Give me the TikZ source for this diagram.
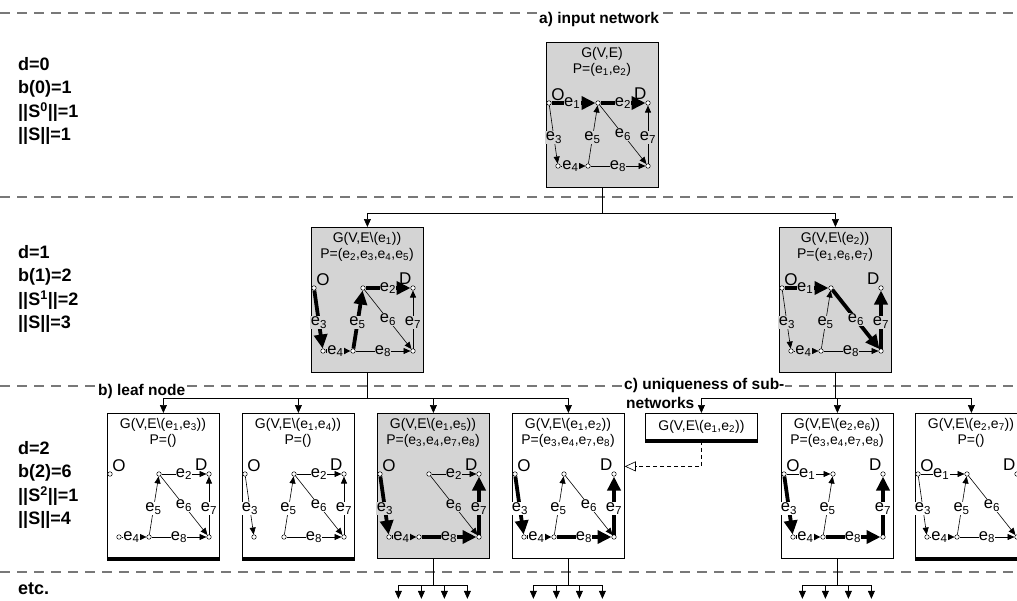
\documentclass[tikz,border=0pt]{standalone}
\usepackage{fontspec}
\setmainfont{Liberation Sans}
\usetikzlibrary{arrows.meta}

\definecolor{boxgray}{RGB}{212,212,212}
\definecolor{sepgray}{RGB}{120,120,120}
\colorlet{netbg}{white}

\newcommand{\esub}[1]{e\textsubscript{#1}}
\newcommand{\setm}{\textbackslash}

\tikzset{
  netrect/.style={draw, line width=0.8pt, anchor=north west, inner sep=0pt,
    minimum width=112pt, minimum height=145pt},
  boxtitle/.style={inner sep=0pt, font=\fontsize{14}{14}\selectfont},
  vtx/.style={circle, draw, fill=white, line width=0.5pt, inner sep=0pt, minimum size=4.5pt},
  vlbl/.style={inner sep=0.5pt, font=\fontsize{17}{17}\selectfont},
  elbl/.style={fill=netbg, inner sep=0.4pt, font=\fontsize{16.5}{16.5}\selectfont},
  offpath/.style={line width=0.6pt, -{Triangle[length=7pt,width=6pt]}},
  onpath/.style={line width=3.8pt, -{Triangle[length=14pt,width=13pt]}},
  shorttip/.style={-{Triangle[length=7pt,width=6.5pt]}},
  leafbar/.style={line width=4pt},
  treearrow/.style={line width=0.7pt, -{Triangle[length=8pt,width=7pt]}},
  uniq/.style={line width=0.6pt, dash pattern=on 4pt off 3pt,
    -{Triangle[open,length=11pt,width=10pt]}},
  levelline/.style={sepgray, line width=1.5pt, dash pattern=on 10pt off 7pt},
  hdr/.style={fill=white, inner sep=1pt, anchor=west,
    font=\bfseries\fontsize{15.5}{16}\selectfont},
  lvl/.style={anchor=west, align=left, inner sep=0pt,
    font=\bfseries\fontsize{18}{23.5}\selectfont}
}

% one edge of the small network: prefix, edge number, style
\newcommand{\netedge}[3]{%
  \ifcase#2\relax
  \or \draw[#3] (#1O) -- node[elbl,pos=.47]{\esub1} (#1m);
  \or \draw[#3] (#1m) -- node[elbl,pos=.5]{\esub2} (#1D);
  \or \draw[#3] (#1O) -- node[elbl,pos=.55]{\esub3} (#1l);
  \or \draw[#3,shorttip] (#1l) -- node[elbl,pos=.4]{\esub4} (#1c);
  \or \draw[#3] (#1c) -- node[elbl,pos=.45]{\esub5} (#1m);
  \or \draw[#3] (#1m) -- node[elbl,pos=.5]{\esub6} (#1r);
  \or \draw[#3] (#1r) -- node[elbl,pos=.45]{\esub7} (#1D);
  \or \draw[#3] (#1c) -- node[elbl,pos=.5]{\esub8} (#1r);
  \fi}

% box with sub-network: name, x, y, fill, title, path, thin edges, path edges
\newcommand{\netbox}[8]{%
  \begin{scope}[shift={(#2,#3)}]
    \colorlet{netbg}{#4}
    \node[netrect, fill=#4] (#1) at (0,0) {};
    \node[boxtitle] (#1-g) at (56,12) {#5};
    \node[boxtitle] (#1-p) at (56,28) {#6};
    \node[vtx, label={[vlbl]45:O}] (#1O) at (3,61) {};
    \node[vtx] (#1m) at (52,61) {};
    \node[vtx, label={[vlbl]110:D}] (#1D) at (102,61) {};
    \node[vtx] (#1l) at (12,124) {};
    \node[vtx] (#1c) at (42,124) {};
    \node[vtx] (#1r) at (102,124) {};
    \foreach \k in {#7} {\netedge{#1}{\k}{offpath}}
    \foreach \k in {#8} {\netedge{#1}{\k}{onpath}}
  \end{scope}}

\begin{document}
\begin{tikzpicture}[x=1pt, y=-1pt]
  \useasboundingbox (0,0) rectangle (1017,600);
  \clip (0,0) rectangle (1017,600);

  % levels
  \draw[levelline] (0,13) -- (1017,13);
  \draw[levelline] (0,197) -- (1017,197);
  \draw[levelline] (0,386) -- (1017,386);
  \draw[levelline] (0,572) -- (1017,572);
  \node[hdr] (ha) at (538,19) {a) input network};
  \node[hdr] (hb) at (97,391) {b) leaf node};
  \node[hdr] (hc) at (623,385) {c) uniqueness of sub-};
  \node[hdr, fill=none] (hn) at (625,403) {networks};

  \node[lvl] (d0) at (18,101) {d=0\\b(0)=1\\||S\textsuperscript{0}||=1\\||S||=1};
  \node[lvl] (d1) at (18,289) {d=1\\b(1)=2\\||S\textsuperscript{1}||=2\\||S||=3};
  \node[lvl] (d2) at (18,485) {d=2\\b(2)=6\\||S\textsuperscript{2}||=1\\||S||=4};
  \node[lvl] (etc) at (18,589) {etc.};

  % search tree
  \netbox{t}{546}{42}{boxgray}{G(V,E)}{P=(\esub1,\esub2)}{3,4,5,6,7,8}{1,2}
  \netbox{a}{311}{227}{boxgray}{G(V,E\setm(\esub1))}{P=(\esub2,\esub3,\esub4,\esub5)}{6,7,8}{2,3,4,5}
  \netbox{b}{779}{227}{boxgray}{G(V,E\setm(\esub2))}{P=(\esub1,\esub6,\esub7)}{3,4,5,8}{1,6,7}
  \netbox{c1}{107}{413}{white}{G(V,E\setm(\esub1,\esub3))}{P=()}{2,4,5,6,7,8}{0}
  \netbox{c2}{242}{413}{white}{G(V,E\setm(\esub1,\esub4))}{P=()}{2,3,5,6,7,8}{0}
  \netbox{c3}{377}{413}{boxgray}{G(V,E\setm(\esub1,\esub5))}{P=(\esub3,\esub4,\esub7,\esub8)}{2,6}{3,4,7,8}
  \netbox{c4}{512}{413}{white}{G(V,E\setm(\esub1,\esub2))}{P=(\esub3,\esub4,\esub7,\esub8)}{5,6}{3,4,7,8}
  \netbox{c5}{781}{413}{white}{G(V,E\setm(\esub2,\esub6))}{P=(\esub3,\esub4,\esub7,\esub8)}{1,5}{3,4,7,8}
  \netbox{c6}{915}{413}{white}{G(V,E\setm(\esub2,\esub7))}{P=()}{1,3,4,5,6,8}{0}
  \node[netrect, minimum height=27pt, font=\fontsize{14}{14}\selectfont] (u) at (645,413)
    {G(V,E\setm(\esub1,\esub2))};

  \foreach \s in {c1,c2,c6,u}
    \draw[leafbar] (\s.south west) -- (\s.south east);

  % branches
  \draw[line width=0.7pt] (t.south) -- ++(0,26) coordinate (tj);
  \foreach \s in {a,b}
    \draw[treearrow] (tj) -| (\s.north);
  \draw[line width=0.7pt] (a.south) -- ++(0,26) coordinate (aj);
  \foreach \s in {c1,c2,c3,c4}
    \draw[treearrow] (aj) -| (\s.north);
  \draw[line width=0.7pt] (b.south) -- ++(0,26) coordinate (bj);
  \foreach \s in {u,c5,c6}
    \draw[treearrow] (bj) -| (\s.north);
  \draw[uniq] (u.south) |- ([yshift=19.5pt]c4.east);
  \foreach \s in {c3,c4,c5} {
    \draw[line width=0.7pt] (\s.south) -- ++(0,27) coordinate (\s-j);
    \foreach \dx in {-35,-12,11,34}
      \draw[treearrow] (\s-j) -| ++(\dx,13);
  }
\end{tikzpicture}
\end{document}
